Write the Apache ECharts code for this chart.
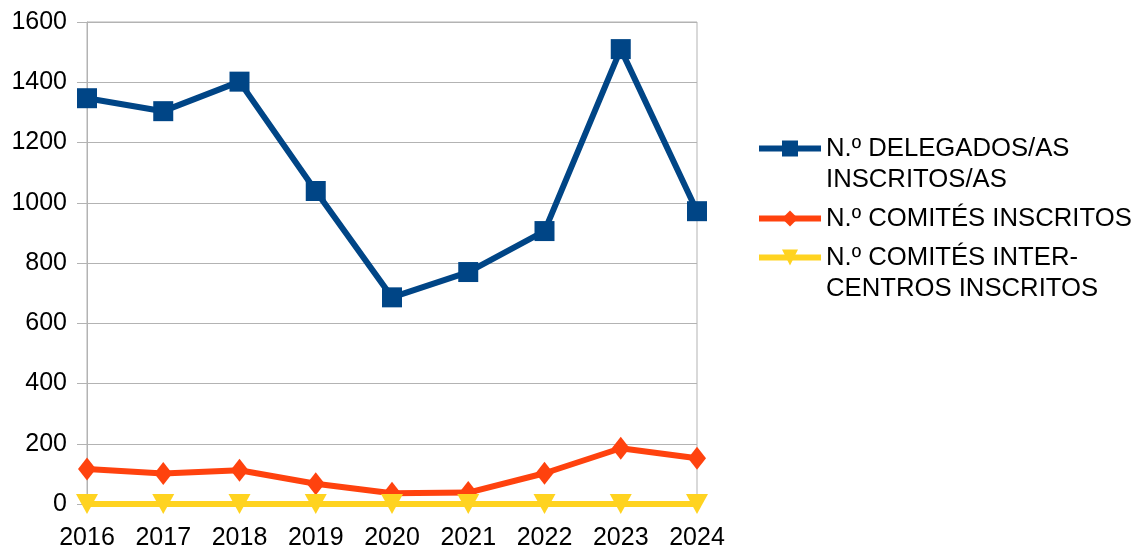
<!DOCTYPE html>
<html>
<head>
<meta charset="utf-8">
<script src="https://cdn.jsdelivr.net/npm/echarts@6/dist/echarts.min.js"></script>
<style>
  html, body { margin: 0; padding: 0; background: #fff; }
  #chart { width: 1144px; height: 552px; }
</style>
</head>
<body>
<div id="chart"></div>
<script>
const years = ['2016', '2017', '2018', '2019', '2020', '2021', '2022', '2023', '2024'];
const delegados = [1347, 1304, 1402, 1039, 686, 770, 906, 1510, 972];
const comites = [116, 101, 112, 67, 36, 38, 102, 185, 152];
const intercentros = [0, 0, 0, 0, 0, 0, 0, 0, 0];
const yTicks = { min: 0, max: 1600, interval: 200 };

const names = ['N.º DELEGADOS/AS INSCRITOS/AS', 'N.º COMITÉS INSCRITOS', 'N.º COMITÉS INTER-CENTROS INSCRITOS'];
// a blank first line keeps the icon level with the first text line
const legendLabels = [' \nN.º DELEGADOS/AS\nINSCRITOS/AS', 'N.º COMITÉS INSCRITOS', ' \nN.º COMITÉS INTER-\nCENTROS INSCRITOS'];

const font = 'Liberation Sans, Arial, sans-serif';
const grey = '#b3b3b3';

function legendFor (i, top) {
  return {
    orient: 'vertical',
    left: 756,
    top: top,
    padding: 0,
    itemWidth: 62,
    itemHeight: 20,
    data: [names[i]],
    formatter: () => legendLabels[i],
    lineStyle: { width: 6 },
    textStyle: {
      fontFamily: font,
      fontSize: 25.7,
      lineHeight: 31,
      color: '#000'
    }
  };
}

const chart = echarts.init(document.getElementById('chart'));
chart.setOption({
  animation: false,
  backgroundColor: '#fff',
  grid: {
    left: 87,
    right: 447,
    top: 22,
    bottom: 48,
    show: true,
    borderColor: grey,
    borderWidth: 1
  },
  legend: [legendFor(0, 102), legendFor(1, 203), legendFor(2, 211)],
  xAxis: {
    type: 'category',
    data: years,
    boundaryGap: false,
    axisLine: { show: true, lineStyle: { color: grey } },
    axisTick: { show: true, length: 6, lineStyle: { color: grey } },
    axisLabel: { fontFamily: font, fontSize: 25, color: '#000', margin: 22 },
    splitLine: { show: false }
  },
  yAxis: {
    type: 'value',
    min: yTicks.min,
    max: yTicks.max,
    interval: yTicks.interval,
    axisLine: { show: true, lineStyle: { color: grey } },
    axisTick: { show: true, length: 10, lineStyle: { color: grey } },
    axisLabel: {
      fontFamily: font,
      fontSize: 25,
      color: '#000',
      margin: 20,
      formatter: (v) => String(v)
    },
    splitLine: { show: true, lineStyle: { color: grey } }
  },
  series: [
    {
      name: names[0],
      type: 'line',
      data: delegados,
      symbol: 'rect',
      symbolSize: 20,
      lineStyle: { width: 6, color: '#004586' },
      itemStyle: { color: '#004586' }
    },
    {
      name: names[1],
      type: 'line',
      data: comites,
      symbol: 'diamond',
      symbolSize: [18, 23],
      lineStyle: { width: 6, color: '#ff420e' },
      itemStyle: { color: '#ff420e' }
    },
    {
      name: names[2],
      type: 'line',
      data: intercentros,
      symbol: 'triangle',
      symbolRotate: 180,
      symbolSize: [22, 20],
      lineStyle: { width: 6, color: '#ffd320' },
      itemStyle: { color: '#ffd320' }
    }
  ]
});
</script>
</body>
</html>
